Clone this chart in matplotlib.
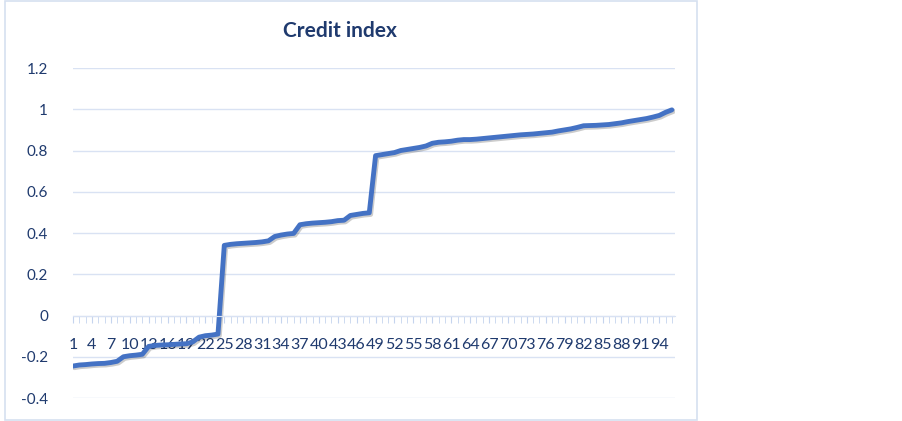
import numpy as np
import matplotlib
matplotlib.use("Agg")
import matplotlib.pyplot as plt
import matplotlib.patheffects as pe
from matplotlib.patches import Rectangle

# credit index, 96 observations sorted ascending
credit_index = [
    -0.245, -0.240, -0.238, -0.235, -0.233, -0.232, -0.228, -0.222, -0.200, -0.195,
    -0.192, -0.188, -0.150, -0.145, -0.143, -0.142, -0.140, -0.138, -0.137, -0.128,
    -0.105, -0.098, -0.095, -0.090, 0.340, 0.345, 0.348, 0.350, 0.352, 0.354,
    0.357, 0.362, 0.383, 0.390, 0.395, 0.398, 0.440, 0.445, 0.448, 0.450,
    0.452, 0.455, 0.460, 0.462, 0.485, 0.490, 0.495, 0.498, 0.775, 0.780,
    0.785, 0.790, 0.800, 0.805, 0.810, 0.815, 0.822, 0.835, 0.840, 0.842,
    0.845, 0.850, 0.853, 0.853, 0.855, 0.858, 0.861, 0.864, 0.867, 0.870,
    0.873, 0.876, 0.878, 0.880, 0.883, 0.886, 0.889, 0.895, 0.900, 0.905,
    0.912, 0.920, 0.921, 0.922, 0.924, 0.926, 0.930, 0.934, 0.940, 0.945,
    0.950, 0.955, 0.962, 0.970, 0.985, 0.997,
]
obs = list(range(1, len(credit_index) + 1))
x_labels = [str(i) for i in obs[::3]]
y_ticks = [-0.4, -0.2, 0, 0.2, 0.4, 0.6, 0.8, 1, 1.2]
y_labels = ["-0.4", "-0.2", "0", "0.2", "0.4", "0.6", "0.8", "1", "1.2"]

text_col = "#1F3A6E"
grid_col = "#D9E2F3"
tick_col = "#C5D4EE"
line_col = "#4472C4"

plt.rcParams["font.family"] = ["Lato", "DejaVu Sans"]

fig = plt.figure(figsize=(9.03, 4.21), dpi=100)
fig.patches.append(Rectangle((5 / 903, 1 / 421), 692 / 903, 419 / 421,
                             transform=fig.transFigure, fill=False,
                             edgecolor="#D6E0F0", linewidth=1.2))

ax = fig.add_axes([73 / 903, 1 - 398 / 421, 602 / 903, 330 / 421])
ax.plot(obs, credit_index, color=line_col, linewidth=3.5, solid_capstyle="round",
        solid_joinstyle="round",
        path_effects=[pe.SimpleLineShadow(offset=(1, -1.2), alpha=0.2), pe.Normal()])

ax.set_xlim(1, 96.5)
ax.set_ylim(-0.4, 1.2)
ax.set_yticks(y_ticks)
ax.set_yticklabels(y_labels)
ax.grid(axis="y", color=grid_col, linewidth=1)
ax.set_axisbelow(True)

ax.set_xticks(obs[::3])
ax.set_xticklabels(x_labels)
ax.set_xticks(obs, minor=True)
ax.spines["bottom"].set_position(("data", 0))
ax.spines["bottom"].set_color(grid_col)
for s in ["top", "right", "left"]:
    ax.spines[s].set_visible(False)

ax.tick_params(axis="y", length=0, pad=18, labelsize=11, labelcolor=text_col)
ax.tick_params(axis="x", which="both", direction="out", length=5, color=tick_col,
               pad=11, labelsize=11.5, labelcolor=text_col)

fig.text(340 / 903, 1 - 31 / 421, "Credit index", ha="center", va="center",
         fontsize=15, fontweight="bold", color=text_col)

fig.savefig("out.png", dpi=100)
